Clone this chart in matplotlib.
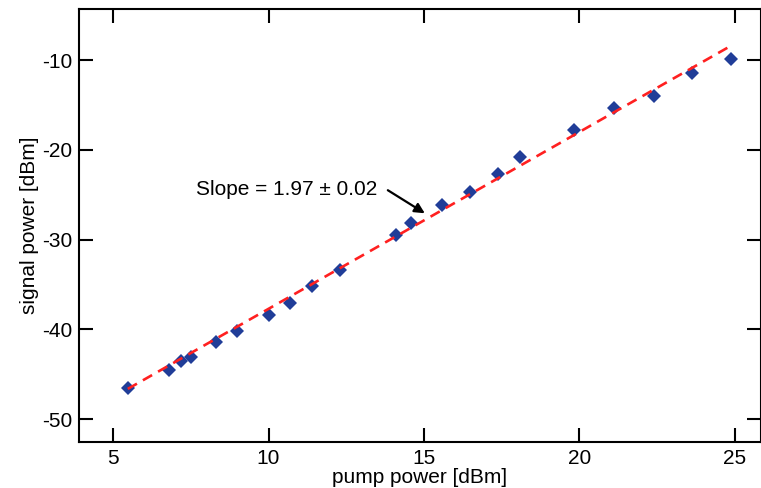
import numpy as np
import matplotlib.pyplot as plt

plt.rcParams['font.family'] = ['Liberation Sans', 'DejaVu Sans']
plt.rcParams['axes.unicode_minus'] = False

# measured points
pump_dbm = [5.47, 6.8, 7.19, 7.5, 8.31, 8.99, 10.0, 10.7, 11.39, 12.3,
            14.1, 14.58, 15.58, 16.48, 17.38, 18.09, 19.82, 21.12, 22.4, 23.63, 24.9]
signal_dbm = [-46.5, -44.5, -43.5, -43.05, -41.4, -40.2, -38.4, -37.1, -35.2, -33.4,
              -29.5, -28.15, -26.2, -24.75, -22.7, -20.75, -17.75, -15.3, -14.0, -11.45, -9.9]

# linear fit
fit_slope = 1.97
fit_intercept = -57.42
slope_err = 0.02

x_ticks = [5, 10, 15, 20, 25]
y_ticks = [-50, -40, -30, -20, -10]


def main():
    fig = plt.figure(figsize=(7.61, 4.88), dpi=100)
    ax = fig.add_axes([0.1038, 0.0943, 0.8962, 0.8873])

    xf = np.array([min(pump_dbm), max(pump_dbm)])
    ax.plot(xf, fit_slope * xf + fit_intercept, color='#ff2020', lw=1.9,
            dashes=(4, 2.6), zorder=3)
    ax.plot(pump_dbm, signal_dbm, linestyle='none', marker='D', ms=7.6,
            color='#203d98', markeredgewidth=0, zorder=2)

    # label and arrow pointing at the fit
    ax.text(13.49, -24.47, "Slope = %.2f \u00b1 %.2f" % (fit_slope, slope_err),
            ha='right', va='center', fontsize=15)
    ax.annotate("", xy=(15.03, -27.07), xytext=(13.84, -24.5),
                arrowprops=dict(arrowstyle='-|>', color='black', lw=1.6,
                                mutation_scale=15, shrinkA=0, shrinkB=0))

    ax.set_xlim(3.9, 25.85)
    ax.set_ylim(-52.56, -4.3)
    ax.set_xticks(x_ticks)
    ax.set_yticks(y_ticks)

    for s in ax.spines.values():
        s.set_linewidth(1.5)
    ax.tick_params(direction='in', length=10, width=1.5, labelsize=15,
                   top=True, right=True, pad=5)

    ax.set_xlabel("pump power [dBm]", fontsize=15, labelpad=0)
    ax.set_ylabel("signal power [dBm]", fontsize=15, labelpad=2)

    fig.savefig("out.png", dpi=100)


if __name__ == "__main__":
    main()
